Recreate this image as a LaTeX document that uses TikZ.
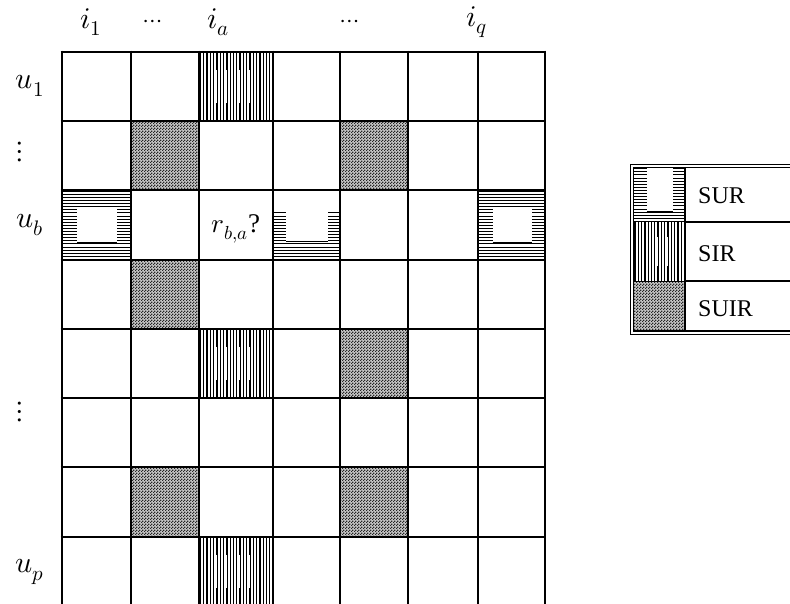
\documentclass[tikz,border=0pt]{standalone}
\usepackage{unicode-math}
\setmainfont{Liberation Serif}
\setmathfont{Latin Modern Math}
\usetikzlibrary{patterns}
\pgfdeclarepatternformonly{suirdots}{\pgfpoint{0pt}{0pt}}{\pgfpoint{3pt}{3pt}}{\pgfpoint{3pt}{3pt}}%
 {\pgfpathrectangle{\pgfpoint{0pt}{0pt}}{\pgfpoint{1.5pt}{1.5pt}}%
  \pgfpathrectangle{\pgfpoint{1.5pt}{1.5pt}}{\pgfpoint{1.5pt}{1.5pt}}\pgfusepath{fill}}
% vertical-line pattern (SIR)
\newcommand\sirpat[4]{%
 \begin{scope}
 \clip (#1,#2) rectangle (#3,#4);
 \foreach \k in {0,...,25}{\draw[line width=1.25pt] ({#1+1.5+3.3*\k},#2) -- ({#1+1.5+3.3*\k},#4);}
 \fill[white] ({#1+0.23*(#3-#1)},{#2+0.26*(#4-#2)}) rectangle ({#1+0.76*(#3-#1)},{#2+0.74*(#4-#2)});
 \clip ({#1+0.23*(#3-#1)},{#2+0.26*(#4-#2)}) rectangle ({#1+0.76*(#3-#1)},{#2+0.74*(#4-#2)});
 \foreach \k in {0,...,25}{\draw[line width=0.7pt] ({#1+1.5+3.3*\k},#2) -- ({#1+1.5+3.3*\k},#4);}
 \end{scope}}
% dotted grey pattern (SUIR)
\newcommand\suirpat[4]{%
 \fill[black!22] (#1,#2) rectangle (#3,#4);
 \fill[pattern=suirdots, pattern color=black!85] (#1,#2) rectangle (#3,#4);}
% horizontal lines
\newcommand\surlines[4]{%
 \begin{scope}
 \clip (#1,#2) rectangle (#3,#4);
 \foreach \k in {0,...,25}{\draw[line width=0.9pt] (#1,{#2+1.2+3.1*\k}) -- (#3,{#2+1.2+3.1*\k});}
 \end{scope}}
% SUR: lines with a white centre
\newcommand\surpat[4]{%
 \surlines{#1}{#2}{#3}{#4}
 \fill[white] ({#1+0.22*(#3-#1)},{#2+0.26*(#4-#2)}) rectangle ({#1+0.8*(#3-#1)},{#2+0.75*(#4-#2)});
 \draw[line width=0.9pt] ({#1+0.22*(#3-#1)},{#2+0.75*(#4-#2)}) -- ({#1+0.8*(#3-#1)},{#2+0.75*(#4-#2)});}
% SUR, open at the top
\newcommand\suropen[4]{%
 \surlines{#1}{#2}{#3}{#4}
 \fill[white] (#1,#2) rectangle (#3,{#2+0.28*(#4-#2)});
 \fill[white] ({#1+0.2*(#3-#1)},#2) rectangle ({#1+0.82*(#3-#1)},{#2+0.74*(#4-#2)});
 \draw[line width=0.9pt] ({#1+0.2*(#3-#1)},{#2+0.74*(#4-#2)}) -- ({#1+0.82*(#3-#1)},{#2+0.74*(#4-#2)});}
% SUR legend swatch
\newcommand\surleg[4]{%
 \surlines{#1}{#2}{#3}{#4}
 \fill[white] ({#1+0.26*(#3-#1)},#2) rectangle ({#1+0.78*(#3-#1)},{#2+0.8*(#4-#2)});
 \draw[line width=0.9pt] ({#1+0.26*(#3-#1)},{#2+0.8*(#4-#2)}) -- ({#1+0.78*(#3-#1)},{#2+0.8*(#4-#2)});}
\begin{document}
\begin{tikzpicture}[x=1pt,y=-1pt,
  lab/.style={font=\fontsize{30}{34}\selectfont, inner sep=0pt},
  dotlab/.style={font=\fontsize{24}{28}\selectfont, inner sep=0pt},
  cellab/.style={font=\fontsize{27}{31}\selectfont, inner sep=0pt},
  legtext/.style={font=\fontsize{24}{28}\selectfont, inner sep=0pt, anchor=west},
  gridline/.style={line width=2.6pt}]
\useasboundingbox (0,0) rectangle (790,604);
% ---- patterned cells ----
\sirpat{199}{52}{273}{121}
\sirpat{199}{329}{273}{398}
\sirpat{199}{537}{273}{606}
\suirpat{131}{121}{199}{190}
\suirpat{340}{121}{408}{190}
\suirpat{131}{260}{199}{329}
\suirpat{340}{329}{408}{398}
\suirpat{131}{467}{199}{537}
\suirpat{340}{467}{408}{537}
\surpat{62}{190}{131}{260}
\surpat{478}{190}{545}{260}
\suropen{273}{190}{340}{260}
% ---- grid ----
\foreach \x in {62,131,199,273,340,408,478,545}{\draw[gridline] (\x,50.7) -- (\x,610);}
\foreach \y in {52,121,190,260,329,398,467,537}{\draw[gridline] (60.7,\y) -- (546.3,\y);}
% ---- labels ----
\node[lab] (i1) at (91,22) {$i_1$};
\node[dotlab] (d1) at (153,24) {$\cdots$};
\node[lab] (ia) at (218,22) {$i_a$};
\node[dotlab] (d2) at (350,24) {$\cdots$};
\node[lab] (iq) at (477,22) {$i_q$};
\node[lab] (u1) at (30,86) {$u_1$};
\node[lab] (v1) at (20,152) {$\vdots$};
\node[lab] (ub) at (30,225) {$u_b$};
\node[lab] (v2) at (20,412) {$\vdots$};
\node[lab] (up) at (30,572) {$u_p$};
\node[cellab] (rba) at (236,229) {$r_{b,a}$?};
% ---- legend ----
\surleg{633.5}{167.5}{684}{222}
\sirpat{633.5}{222}{684}{281}
\suirpat{633.5}{281}{684}{331}
\draw[line width=0.8pt] (795,164) -- (630,164) -- (630,334.5) -- (795,334.5);
\draw[line width=1.8pt] (795,167.5) -- (633.5,167.5) -- (633.5,331) -- (795,331);
\draw[line width=1pt] (633.5,222) -- (684,222);
\draw[line width=1pt] (633.5,281) -- (684,281);
\draw[line width=2.4pt] (686,222) -- (795,222);
\draw[line width=2.4pt] (686,281) -- (795,281);
\draw[line width=2.6pt] (685,167.5) -- (685,331);
\node[legtext] (tsur) at (698,196) {SUR};
\node[legtext] (tsir) at (698,254) {SIR};
\node[legtext] (tsuir) at (698,309) {SUIR};
\end{tikzpicture}
\end{document}
